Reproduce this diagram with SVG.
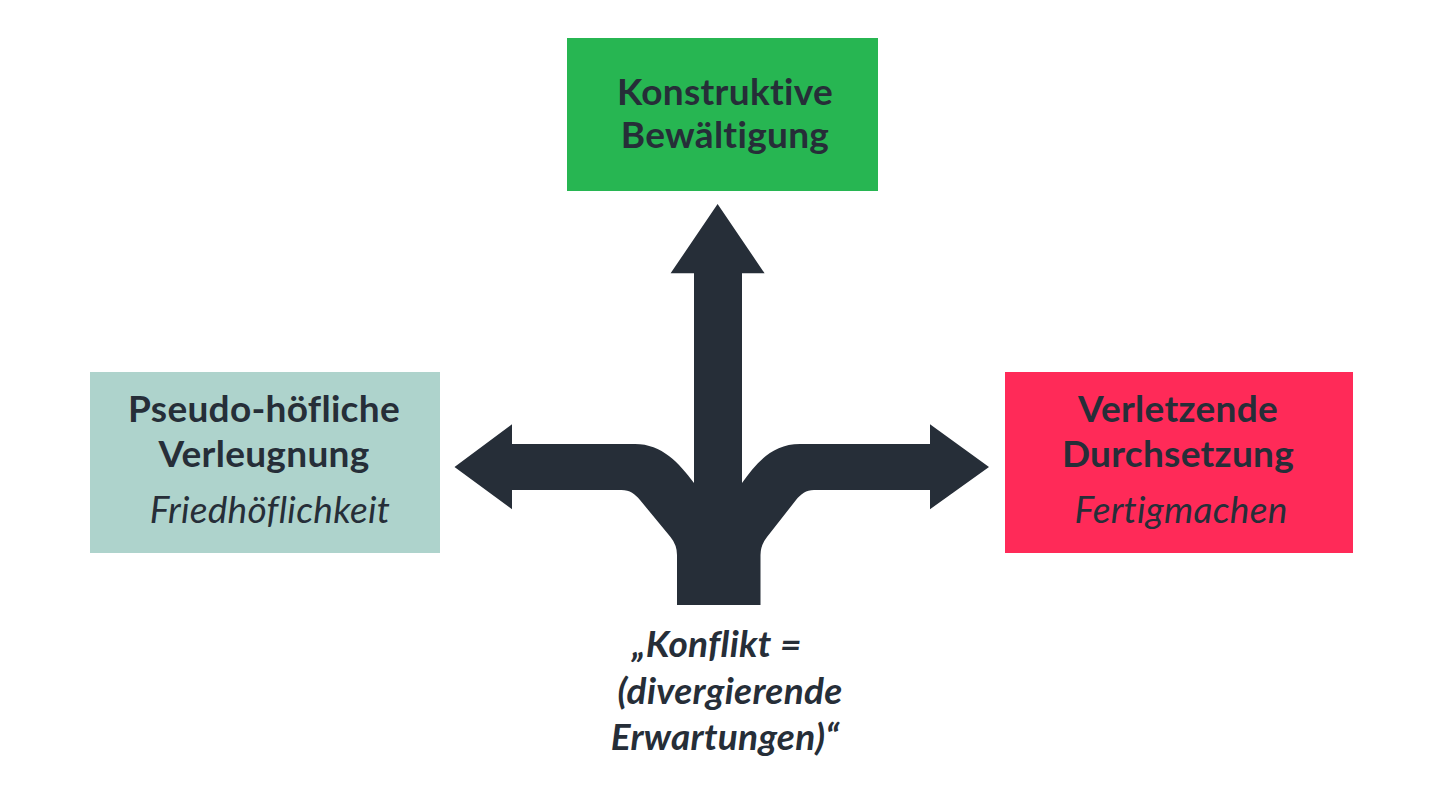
<svg xmlns="http://www.w3.org/2000/svg" width="1440" height="810" viewBox="0 0 1440 810">
  <style>
    .t { font-family: Lato, "Open Sans", "Liberation Sans", sans-serif; font-size: 37px; font-weight: 700; fill: #262e38; text-anchor: middle; letter-spacing: 0.3px; font-variant-ligatures: none; font-feature-settings: "liga" 0; }
    .i { font-style: italic; font-weight: 400; }
    .bi { font-style: italic; font-weight: 700; }
  </style>
  <rect width="1440" height="810" fill="#ffffff"/>
  <g id="connectors">
    <path fill="#262e38" d="M 717.6 204 L 764.6 273.3 L 742 273.3 L 742 483 C 756 463, 772 444, 800 444 L 930 444 L 930 424.3 L 989 467 L 930 509.3 L 930 490 L 814 490 C 806 490, 801 494, 796 500 L 767 537 Q 760.5 545, 760.5 555 L 760.5 605 L 677 605 L 677 555 Q 677 545, 670.5 537 L 640 500 C 635 494, 630 490, 621.5 490 L 512 490 L 512 509.3 L 454.5 467 L 512 424.3 L 512 444 L 635 444 C 662 444, 679 463, 694 483 L 694 273.3 L 670.6 273.3 Z"/>
  </g>
  <g id="node-top">
    <rect x="567" y="38" width="311" height="153" fill="#27b652"/>
    <text class="t" x="725" y="105">Konstruktive</text>
    <text class="t" x="725" y="148">Bewältigung</text>
  </g>
  <g id="node-left">
    <rect x="90" y="372" width="350" height="181" fill="#aed3cc"/>
    <text class="t" x="264" y="422">Pseudo-höfliche</text>
    <text class="t" x="264" y="467">Verleugnung</text>
    <text class="t i" x="270" y="523">Friedhöflichkeit</text>
  </g>
  <g id="node-right">
    <rect x="1005" y="372" width="348" height="181" fill="#ff2a58"/>
    <text class="t" x="1178" y="422">Verletzende</text>
    <text class="t" x="1178" y="467">Durchsetzung</text>
    <text class="t i" x="1181" y="523">Fertigmachen</text>
  </g>
  <g id="node-bottom">
    <text class="t bi" x="717" y="657">„Konflikt =</text>
    <text class="t bi" x="730" y="704">(divergierende</text>
    <text class="t bi" x="725" y="750">Erwartungen)“</text>
  </g>
</svg>
